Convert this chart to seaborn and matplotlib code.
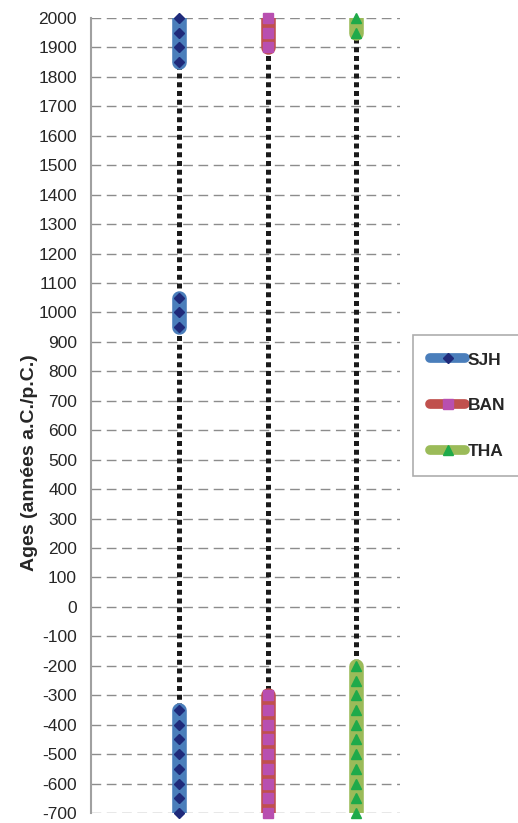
import numpy as np
import pandas as pd
import matplotlib
matplotlib.use("Agg")
import matplotlib.pyplot as plt
import seaborn as sns
from matplotlib.lines import Line2D

# sites and their x position
sites = ["SJH", "BAN", "THA"]
site_x = [1, 2, 3]

# ages (one list per continuous segment)
sjh_segments = [[2000, 1950, 1900, 1850],
                [1050, 1000, 950],
                [-350, -400, -450, -500, -550, -600, -650, -700]]
ban_segments = [[2000, 1950, 1900],
                [-300, -350, -400, -450, -500, -550, -600, -650, -700]]
tha_segments = [[2000, 1950],
                [-200, -250, -300, -350, -400, -450, -500, -550, -600, -650, -700]]

y_ticks = list(range(-700, 2001, 100))

line_colors = ["#4A7EBB", "#C0504D", "#9BBB59"]
marker_colors = ["#1F2A7A", "#B84FB0", "#1FAA4A"]
markers = ["D", "s", "^"]
marker_sizes = [5.5, 7, 7.5]

rows = []
for name, xpos, segs in zip(sites, site_x, [sjh_segments, ban_segments, tha_segments]):
    for k, seg in enumerate(segs):
        for age in seg:
            rows.append({"site": name, "x": xpos, "age": age, "seg": f"{name}_{k}"})
df = pd.DataFrame(rows)

sns.set_style("white")
plt.rcParams['font.family'] = ['Liberation Sans', 'DejaVu Sans']

fig = plt.figure(figsize=(5.18, 8.23), dpi=100)
ax = fig.add_axes([91 / 518, 10 / 823, 309 / 518, 795 / 823])

# dotted connector running the whole period
for xpos in site_x:
    ax.plot([xpos, xpos], [min(y_ticks), max(y_ticks)], color="#1a1a1a", lw=3.6,
            linestyle=(0, (1, 0.75)), dash_capstyle="butt", zorder=2)

for i, name in enumerate(sites):
    sub = df[df["site"] == name]
    sns.lineplot(data=sub, x="x", y="age", units="seg", estimator=None, sort=False,
                 color=line_colors[i], lw=10.5, solid_capstyle="round", ax=ax,
                 legend=False, zorder=3)
    mk = ax.plot(sub["x"], sub["age"], linestyle="none", marker=markers[i],
                 ms=marker_sizes[i], color=marker_colors[i], mec=marker_colors[i], zorder=4)
    mk[0].set_clip_on(False)

ax.set_xlim(0, 3.5)
ax.set_ylim(-700, 2000)
ax.set_yticks(y_ticks)
ax.set_yticklabels([str(t) for t in y_ticks], fontsize=12.5)
ax.set_xticks([])
ax.set_xlabel("")
ax.set_ylabel("Ages (années a.C./p.C.)", fontsize=14, fontweight="bold")
ax.yaxis.set_label_coords(-0.172, 0.441)
ax.yaxis.grid(True, color="#8c8c8c", linestyle=(0, (7, 4)), lw=1)
ax.set_axisbelow(True)
ax.tick_params(axis="y", direction="out", length=6, color="#999999", width=1.2, pad=4)
for s in ["top", "right", "bottom"]:
    ax.spines[s].set_visible(False)
ax.spines["left"].set_color("#a0a0a0")
ax.spines["left"].set_linewidth(1.5)

handles = [Line2D([], [], color=line_colors[i], lw=7, solid_capstyle="round",
                  marker=markers[i], ms=marker_sizes[i], mfc=marker_colors[i],
                  mec=marker_colors[i]) for i in range(3)]
leg = fig.legend(handles, sites, loc="upper left", bbox_to_anchor=(413 / 518, 1 - 335 / 823),
                 borderaxespad=0, frameon=True, fancybox=False, edgecolor="#999999",
                 handlelength=2.0, labelspacing=1.75, borderpad=1.0, handletextpad=0.15,
                 prop={"weight": "bold", "size": 12.5})
leg.get_frame().set_linewidth(1.2)

fig.savefig("out.png", dpi=100)
